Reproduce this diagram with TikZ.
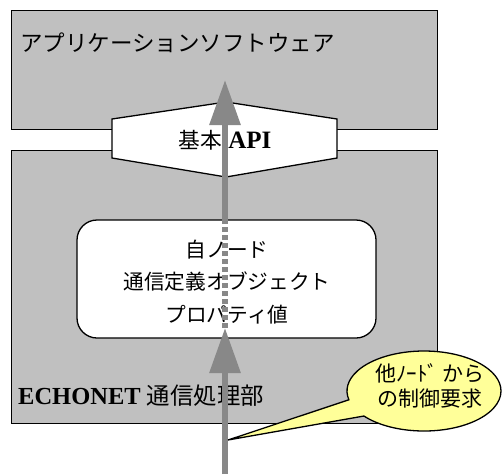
\documentclass[tikz,border=0pt]{standalone}
\usepackage{fontspec}
\setmainfont{Liberation Serif}
\newfontfamily\jp{Noto Sans CJK JP}
\usetikzlibrary{arrows.meta,shapes.callouts}
\definecolor{boxgray}{HTML}{C0C0C0}
\definecolor{arrowgray}{HTML}{888888}
\definecolor{calloutyellow}{HTML}{FFFF99}
\begin{document}
\begin{tikzpicture}[x=1pt,y=-1pt,
  graybox/.style={draw=black,line width=1.3pt,fill=boxgray,inner sep=0pt,anchor=north west},
  hexa/.style={draw=black,line width=1.3pt,fill=white},
  propbox/.style={draw=black,line width=1.3pt,fill=white,rounded corners=20pt,inner sep=0pt},
  flow/.style={draw=arrowgray,line width=6pt,-{Triangle[width=30pt,length=45pt]}},
  flowdash/.style={draw=arrowgray,line width=6pt,dash pattern=on 5pt off 3pt},
  reqcallout/.style={ellipse callout,draw=black,line width=1.3pt,fill=calloutyellow,inner sep=0pt,
    minimum width=154pt,minimum height=80pt,callout pointer arc=26},
  lbl/.style={inner sep=0pt}]
\useasboundingbox (0,0) rectangle (502,474);
% boxes
\node[graybox,minimum width=426pt,minimum height=119pt] (app) at (11,10) {};
\node[graybox,minimum width=426pt,minimum height=273pt] (echo) at (11,150) {};
\node[lbl,anchor=west,font=\jp\fontsize{22.5}{27}\selectfont] (apptext) at (20,43) {アプリケーションソフトウェア};
% API hexagon
\draw[hexa] (112,119) -- (226,102) -- (337,119) -- (337,158) -- (226,177) -- (112,158) -- cycle;
\node[lbl,font=\fontsize{25}{30}\selectfont] (api) at (225,140) {{\jp\fontsize{21.7}{26}\selectfont 基本}\bfseries\ API};
% property box
\node[propbox,minimum width=299pt,minimum height=118pt] (prop) at (226.5,279) {};
\node[lbl,align=center,font=\jp\fontsize{20.7}{32.5}\selectfont] (proptext) at (227,282) {自ノード\\通信定義オブジェクト\\プロパティ値};
% ECHONET label
\node[lbl,anchor=west,font=\fontsize{24.5}{29}\selectfont] (echotext) at (18,396) {\textbf{ECHONET}\ {\jp\fontsize{23.4}{28}\selectfont 通信処理部}};
% arrows
\coordinate (src) at (225,474);
\coordinate (lowtip) at (225,328);
\coordinate (boxtop) at (225,220);
\coordinate (hightip) at (225,80);
\draw[flow] (src) -- (lowtip);
\draw[flowdash] (lowtip) -- (boxtop);
\draw[flow] (boxtop) -- (hightip);
% callout
\coordinate (tailtip) at (228,440);
\node[reqcallout,callout absolute pointer={(tailtip)}] (req) at (424,391) {};
\node[lbl,align=center,font=\jp\fontsize{21}{25}\selectfont] (reqtext) at (430,386) {他ﾉｰﾄﾞ から\\の制御要求};
\end{tikzpicture}
\end{document}
